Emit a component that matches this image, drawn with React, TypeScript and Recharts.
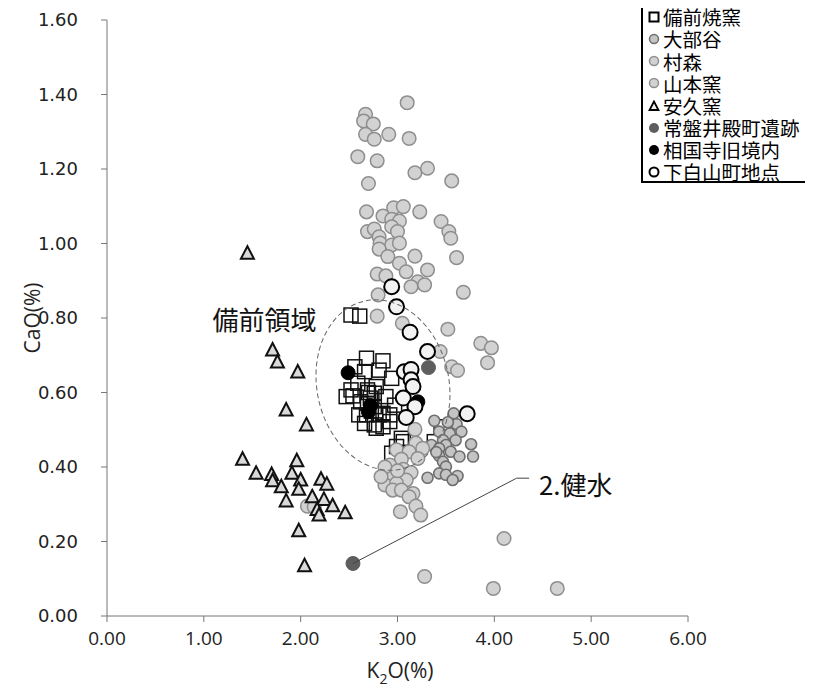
import { ScatterChart, Scatter, XAxis, YAxis } from "recharts";

/* ======================
 * DATA (K2O %, CaO %)
 * ====================== */

const xTicks = [0, 1, 2, 3, 4, 5, 6];
const yTicks = [0, 0.2, 0.4, 0.6, 0.8, 1.0, 1.2, 1.4, 1.6];

const seriesNames = [
  "備前焼窯",
  "大部谷",
  "村森",
  "山本窯",
  "安久窯",
  "常盤井殿町遺跡",
  "相国寺旧境内",
  "下白山町地点",
];

const bizenKiln: [number, number][] = [
  [2.52, 0.808], [2.61, 0.805], [2.68, 0.692], [2.85, 0.685], [2.56, 0.669],
  [2.66, 0.656], [2.81, 0.66], [2.94, 0.638], [2.52, 0.607], [2.54, 0.591],
  [2.69, 0.607], [2.78, 0.616], [2.88, 0.589], [2.69, 0.571], [2.76, 0.562],
  [2.97, 0.566], [2.68, 0.54], [2.81, 0.54], [2.92, 0.54], [2.66, 0.517],
  [2.76, 0.513], [2.85, 0.508], [2.92, 0.522], [3.04, 0.477], [2.94, 0.437],
  [2.99, 0.455], [2.47, 0.589], [2.59, 0.625], [2.76, 0.598], [2.85, 0.544],
  [2.78, 0.504], [3.06, 0.468], [3.38, 0.468], [3.45, 0.508], [2.72, 0.585],
  [2.7, 0.6], [2.62, 0.575], [2.73, 0.55], [2.6, 0.54],
];

const oobedani: [number, number][] = [
  [3.58, 0.544], [3.38, 0.524], [3.61, 0.515], [3.43, 0.495], [3.54, 0.49],
  [3.66, 0.495], [3.47, 0.472], [3.6, 0.472], [3.5, 0.459], [3.76, 0.461],
  [3.35, 0.459], [3.43, 0.45], [3.55, 0.441], [3.64, 0.428], [3.78, 0.428],
  [3.43, 0.43], [3.47, 0.414], [3.5, 0.401], [3.43, 0.383], [3.5, 0.379],
  [3.62, 0.376], [3.57, 0.365], [3.31, 0.371], [3.52, 0.52], [3.4, 0.44],
];

const muramori: [number, number][] = [
  [3.1, 1.378], [2.67, 1.347], [2.65, 1.329], [2.75, 1.321], [2.67, 1.293],
  [2.76, 1.28], [2.91, 1.293], [3.12, 1.282], [2.59, 1.233], [2.79, 1.222],
  [3.18, 1.19], [3.31, 1.202], [2.7, 1.161], [3.56, 1.168], [2.68, 1.085],
  [2.85, 1.074], [2.96, 1.096], [3.06, 1.099], [3.23, 1.085], [2.94, 1.065],
  [3.02, 1.06], [2.69, 1.032], [2.76, 1.039], [2.81, 1.018], [2.94, 1.045],
  [3.0, 1.032], [3.45, 1.059], [3.53, 1.032], [3.55, 1.014], [2.82, 1.001],
  [2.94, 0.996], [3.02, 1.001], [2.81, 0.985], [2.9, 0.965], [3.18, 0.966],
  [3.02, 0.947],
];

const yamamotoKiln: [number, number][] = [
  [3.09, 0.924], [3.31, 0.929], [3.61, 0.962], [2.79, 0.918], [2.88, 0.913],
  [3.21, 0.897], [3.14, 0.884], [3.28, 0.889], [2.8, 0.862], [3.68, 0.869],
  [2.79, 0.805], [3.05, 0.786], [3.52, 0.77], [3.44, 0.71], [3.86, 0.732],
  [3.97, 0.72], [3.93, 0.68], [3.56, 0.669], [3.62, 0.659],
  [3.18, 0.501], [3.19, 0.464], [3.26, 0.45], [2.99, 0.446], [3.12, 0.441],
  [3.04, 0.421], [3.21, 0.423], [2.92, 0.405], [3.06, 0.394], [3.14, 0.385],
  [2.85, 0.374], [2.95, 0.374], [3.09, 0.365], [2.87, 0.352], [2.99, 0.356],
  [2.95, 0.338], [3.04, 0.338], [3.16, 0.329], [3.12, 0.32], [3.19, 0.295],
  [3.03, 0.28], [3.24, 0.271], [2.07, 0.295], [2.14, 0.293], [4.1, 0.208],
  [3.28, 0.106], [3.99, 0.074], [4.65, 0.074], [2.87, 0.4], [2.83, 0.374],
  [3.0, 0.39],
];

const akuKiln: [number, number][] = [
  [1.45, 0.974], [1.71, 0.714], [1.76, 0.682], [1.97, 0.655], [1.85, 0.553],
  [2.06, 0.513], [1.4, 0.421], [1.54, 0.383], [1.7, 0.38], [1.71, 0.363],
  [1.8, 0.347], [1.96, 0.417], [1.91, 0.383], [2.0, 0.365], [1.98, 0.34],
  [1.85, 0.309], [2.21, 0.367], [2.27, 0.354], [2.12, 0.32], [2.24, 0.313],
  [2.33, 0.296], [2.17, 0.286], [2.19, 0.271], [2.46, 0.277], [1.98, 0.229],
  [2.04, 0.135],
];

const tokiwaiSite: [number, number][] = [
  [2.54, 0.141], [3.32, 0.667],
];

const shokokujiSite: [number, number][] = [
  [2.49, 0.653], [3.21, 0.575], [2.72, 0.565], [2.7, 0.548],
];

const shimoHakusanSite: [number, number][] = [
  [2.94, 0.884], [2.99, 0.83], [3.13, 0.762], [3.31, 0.71], [3.07, 0.656],
  [3.14, 0.662], [3.14, 0.634], [3.16, 0.616], [3.06, 0.585], [3.18, 0.562],
  [3.09, 0.533], [3.72, 0.543],
];

// annotations
const bizenRegionCenter: [number, number] = [2.85, 0.62];
const bizenLabelPos: [number, number] = [1.09, 0.768];
const kensuiLeader: [number, number][] = [[2.54, 0.141], [4.23, 0.37], [4.36, 0.37]];
const kensuiLabelPos: [number, number] = [4.46, 0.326];

/* ======================
 * HELPERS
 * ====================== */

const toPoints = (arr: [number, number][]) => arr.map(([x, y]) => ({ x, y }));

const squareShape = (p: any) => (
  <rect x={p.cx - 7} y={p.cy - 7} width={14} height={14} fill="none" stroke="#111" strokeWidth={1.5} />
);

const triangleShape = (p: any) => (
  <polygon
    points={`${p.cx},${p.cy - 7} ${p.cx - 6.5},${p.cy + 5.5} ${p.cx + 6.5},${p.cy + 5.5}`}
    fill="#d9d9d9"
    stroke="#111"
    strokeWidth={2}
  />
);

const circleShape = (r: number, fill: string, stroke: string, sw: number) => (p: any) => (
  <circle cx={p.cx} cy={p.cy} r={r} fill={fill} stroke={stroke} strokeWidth={sw} />
);

const noShape = () => <g />;

const CJK = '"Noto Sans CJK JP", "Noto Sans", sans-serif';

const series = [
  { name: seriesNames[0], data: bizenKiln, shape: squareShape, icon: "square" },
  { name: seriesNames[1], data: oobedani, shape: circleShape(5.5, "#c4c4c4", "#6e6e6e", 1.6), icon: "c1" },
  { name: seriesNames[2], data: muramori, shape: circleShape(6.8, "#d2d2d2", "#8e8e8e", 1.5), icon: "c2" },
  { name: seriesNames[3], data: yamamotoKiln, shape: circleShape(6.8, "#d2d2d2", "#8e8e8e", 1.5), icon: "c2" },
  { name: seriesNames[4], data: akuKiln, shape: triangleShape, icon: "tri" },
  { name: seriesNames[5], data: tokiwaiSite, shape: circleShape(7, "#5e5e5e", "#5e5e5e", 1), icon: "dark" },
  { name: seriesNames[6], data: shokokujiSite, shape: circleShape(7, "#000", "#000", 1), icon: "black" },
  { name: seriesNames[7], data: shimoHakusanSite, shape: circleShape(7.5, "#f2f2f2", "#000", 2), icon: "open" },
];

function LegendIcon({ kind }: { kind: string }) {
  return (
    <svg width={12} height={12} style={{ display: "block" }}>
      {kind === "square" && <rect x={1.5} y={1.5} width={9} height={9} fill="none" stroke="#000" strokeWidth={2} />}
      {kind === "c1" && <circle cx={6} cy={6} r={4.5} fill="#c4c4c4" stroke="#6e6e6e" strokeWidth={1.5} />}
      {kind === "c2" && <circle cx={6} cy={6} r={4.5} fill="#d2d2d2" stroke="#8e8e8e" strokeWidth={1.5} />}
      {kind === "tri" && <polygon points="6,1.5 1.5,10 10.5,10" fill="#eee" stroke="#000" strokeWidth={1.8} />}
      {kind === "dark" && <circle cx={6} cy={6} r={5} fill="#5e5e5e" />}
      {kind === "black" && <circle cx={6} cy={6} r={5} fill="#000" />}
      {kind === "open" && <circle cx={6} cy={6} r={4.5} fill="#fff" stroke="#000" strokeWidth={2} />}
    </svg>
  );
}

/* ======================
 * COMPONENT
 * ====================== */

const App = () => {
  return (
    <div style={{ position: "relative", width: 805, height: 688 }}>
      <ScatterChart width={805} height={688} margin={{ top: 12, right: 125, bottom: 0, left: 19 }}>
        <XAxis
          type="number"
          dataKey="x"
          domain={[0, 6]}
          ticks={xTicks}
          tickFormatter={(v: number) => v.toFixed(2)}
          height={80}
          stroke="#777"
          tickSize={6}
          tickMargin={10}
          tick={{ fontSize: 19, fill: "#222", fontFamily: '"Open Sans", sans-serif' }}
        />
        <YAxis
          type="number"
          dataKey="y"
          domain={[0, 1.6]}
          ticks={yTicks}
          tickFormatter={(v: number) => v.toFixed(2)}
          width={80}
          stroke="#777"
          tickSize={6}
          tickMargin={23}
          tick={{ fontSize: 18, fill: "#222", fontFamily: '"DejaVu Sans", sans-serif' }}
        />

        {series.map((s) => (
          <Scatter
            key={s.name}
            name={s.name}
            data={toPoints(s.data)}
            shape={s.shape}
            isAnimationActive={false}
          />
        ))}

        {/* 備前領域 dashed ellipse */}
        <Scatter
          data={toPoints([bizenRegionCenter])}
          isAnimationActive={false}
          shape={(p: any) => (
            <ellipse
              cx={p.cx}
              cy={p.cy}
              rx={66}
              ry={86}
              transform={`rotate(-12 ${p.cx} ${p.cy})`}
              fill="none"
              stroke="#666"
              strokeWidth={1}
              strokeDasharray="5 3"
            />
          )}
        />
        <Scatter
          data={toPoints([bizenLabelPos])}
          isAnimationActive={false}
          shape={(p: any) => (
            <text x={p.cx} y={p.cy} fontSize={26} fill="#111" fontFamily={CJK}>
              備前領域
            </text>
          )}
        />

        {/* 2.健水 leader line */}
        <Scatter
          data={toPoints(kensuiLeader)}
          line={{ stroke: "#444", strokeWidth: 1 }}
          shape={noShape}
          isAnimationActive={false}
        />
        <Scatter
          data={toPoints([kensuiLabelPos])}
          isAnimationActive={false}
          shape={(p: any) => (
            <text x={p.cx} y={p.cy} fontSize={26} fill="#111" fontFamily={CJK}>
              2.健水
            </text>
          )}
        />
      </ScatterChart>

      {/* axis titles */}
      <div
        style={{
          position: "absolute",
          left: 24,
          top: 310,
          transform: "translate(-50%, -50%) rotate(-90deg)",
          fontFamily: '"Open Sans", sans-serif',
          fontSize: 21,
          color: "#222",
          whiteSpace: "nowrap",
        }}
      >
        CaO(%)
      </div>
      <div
        style={{
          position: "absolute",
          left: 392,
          top: 664,
          transform: "translate(-50%, -50%)",
          fontFamily: '"Open Sans", sans-serif',
          fontSize: 21,
          color: "#222",
          whiteSpace: "nowrap",
        }}
      >
        K<sub style={{ fontSize: 14 }}>2</sub>O(%)
      </div>

      {/* legend */}
      <div
        style={{
          position: "absolute",
          left: 633,
          top: -2,
          width: 172,
          height: 177,
          boxSizing: "border-box",
          borderTop: "2px solid #000",
          borderLeft: "2px solid #000",
          borderBottom: "2px solid #000",
          background: "#fff",
        }}
      />
      <div style={{ position: "absolute", left: 637, top: -2 }}>
        {series.map((s) => (
          <div
            key={s.name}
            style={{ display: "flex", alignItems: "center", height: 22.14, fontFamily: CJK, fontSize: 19.5, lineHeight: 1, color: "#000" }}
          >
            <span style={{ width: 18, display: "flex", justifyContent: "center" }}>
              <LegendIcon kind={s.icon} />
            </span>
            <span style={{ marginLeft: 0, lineHeight: 1, whiteSpace: "nowrap" }}>{s.name}</span>
          </div>
        ))}
      </div>
    </div>
  );
};

export default App;
